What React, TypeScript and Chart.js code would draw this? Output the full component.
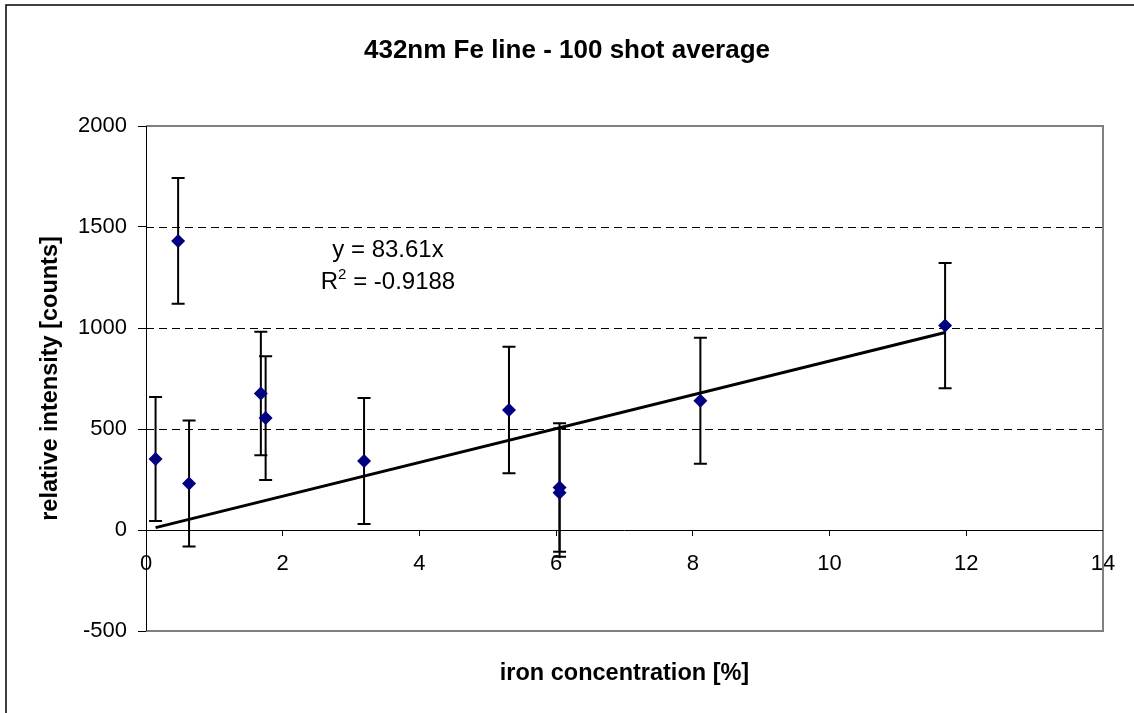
import React, { useEffect, useRef } from 'react';
import { Chart, registerables } from 'chart.js';

Chart.register(...registerables);

// ---- data ----
const ironConcentration = [0.14, 0.47, 0.63, 1.68, 1.75, 3.19, 5.31, 6.05, 6.05, 8.11, 11.69];
const relativeIntensity = [351, 1431, 230, 676, 554, 342, 594, 210, 185, 640, 1012];
const intensityError = [307, 311, 312, 306, 306, 312, 313, 318, 318, 312, 310];
const trendSlope = 83.61;
const trendEquation = 'y = 83.61x';
const trendR2Value = ' = -0.9188';
const xTickValues = [0, 2, 4, 6, 8, 10, 12, 14];
const yTickValues = [-500, 0, 500, 1000, 1500, 2000];
const dashedGridValues = [500, 1000, 1500];
const chartTitle = '432nm Fe line - 100 shot average';
const xAxisTitle = 'iron concentration [%]';
const yAxisTitle = 'relative intensity [counts]';

const FONT = '"Liberation Sans", Arial, Helvetica, sans-serif';

const decorPlugin = {
  id: 'decor',
  beforeDatasetsDraw(chart: any) {
    const { ctx } = chart;
    const xs = chart.scales.x;
    const ys = chart.scales.y;
    const xMin = xTickValues[0];
    const xMax = xTickValues[xTickValues.length - 1];
    const yMin = yTickValues[0];
    const yMax = yTickValues[yTickValues.length - 1];
    const left = xs.getPixelForValue(xMin);
    const right = xs.getPixelForValue(xMax);
    const top = ys.getPixelForValue(yMax);
    const bottom = ys.getPixelForValue(yMin);
    ctx.save();
    // dashed gridlines
    ctx.strokeStyle = '#000';
    ctx.lineWidth = 1;
    ctx.setLineDash([8, 5]);
    dashedGridValues.forEach((v) => {
      const y = Math.round(ys.getPixelForValue(v)) + 0.5;
      ctx.beginPath();
      ctx.moveTo(left, y);
      ctx.lineTo(right, y);
      ctx.stroke();
    });
    ctx.setLineDash([]);
    // gray frame (top, right, bottom)
    ctx.strokeStyle = '#808080';
    ctx.lineWidth = 2;
    ctx.beginPath();
    ctx.moveTo(left, top);
    ctx.lineTo(right, top);
    ctx.lineTo(right, bottom);
    ctx.lineTo(left, bottom);
    ctx.stroke();
    // x axis line at y = 0
    const y0 = Math.round(ys.getPixelForValue(0)) + 0.5;
    ctx.strokeStyle = '#000';
    ctx.lineWidth = 1;
    ctx.beginPath();
    ctx.moveTo(left, y0);
    ctx.lineTo(right, y0);
    ctx.stroke();
    // y axis line
    const x0 = Math.round(left) + 0.5;
    ctx.beginPath();
    ctx.moveTo(x0, top);
    ctx.lineTo(x0, bottom);
    ctx.stroke();
    // error bars
    ctx.strokeStyle = '#000';
    ctx.lineWidth = 2;
    const cap = 6.5;
    ironConcentration.forEach((xv, i) => {
      const px = xs.getPixelForValue(xv);
      const hi = ys.getPixelForValue(relativeIntensity[i] + intensityError[i]);
      const lo = ys.getPixelForValue(relativeIntensity[i] - intensityError[i]);
      ctx.beginPath();
      ctx.moveTo(px, hi);
      ctx.lineTo(px, lo);
      ctx.moveTo(px - cap, hi);
      ctx.lineTo(px + cap, hi);
      ctx.moveTo(px - cap, lo);
      ctx.lineTo(px + cap, lo);
      ctx.stroke();
    });
    ctx.restore();
  },
  afterDraw(chart: any) {
    const { ctx, width, height } = chart;
    const area = chart.chartArea;
    ctx.save();
    // outer chart border (left + top visible)
    ctx.strokeStyle = '#000';
    ctx.lineWidth = 1.5;
    ctx.beginPath();
    ctx.moveTo(6, height);
    ctx.lineTo(6, 5);
    ctx.lineTo(width, 5);
    ctx.stroke();

    ctx.fillStyle = '#000';
    // title
    ctx.font = `bold 26px ${FONT}`;
    ctx.textAlign = 'center';
    ctx.textBaseline = 'alphabetic';
    ctx.fillText(chartTitle, width / 2, 58);
    // x axis title
    ctx.font = `bold 23.5px ${FONT}`;
    ctx.fillText(xAxisTitle, (area.left + area.right) / 2, 680);
    // y axis title
    ctx.save();
    ctx.translate(57, (area.top + area.bottom) / 2);
    ctx.rotate(-Math.PI / 2);
    ctx.fillText(yAxisTitle, 0, 0);
    ctx.restore();
    // trendline equation
    ctx.font = `24px ${FONT}`;
    ctx.fillText(trendEquation, 388, 257);
    ctx.textAlign = 'left';
    const rW = ctx.measureText('R').width;
    ctx.font = `15px ${FONT}`;
    const sW = ctx.measureText('2').width;
    ctx.font = `24px ${FONT}`;
    const restW = ctx.measureText(trendR2Value).width;
    const total = rW + sW + restW;
    let x = 388 - total / 2;
    ctx.fillText('R', x, 289);
    x += rW;
    ctx.font = `15px ${FONT}`;
    ctx.fillText('2', x, 279);
    x += sW;
    ctx.font = `24px ${FONT}`;
    ctx.fillText(trendR2Value, x, 289);
    ctx.restore();
  },
};

export default function App() {
  const canvasRef = useRef<HTMLCanvasElement | null>(null);

  useEffect(() => {
    if (!canvasRef.current) return;
    const xFirst = Math.min(...ironConcentration);
    const xLast = Math.max(...ironConcentration);
    const chart = new Chart(canvasRef.current, {
      type: 'scatter',
      data: {
        datasets: [
          {
            label: 'data',
            data: ironConcentration.map((x, i) => ({ x, y: relativeIntensity[i] })),
            backgroundColor: '#000080',
            borderColor: '#000080',
            pointStyle: 'rectRot',
            pointRadius: 7,
            pointBorderWidth: 0,
            showLine: false,
            order: 0,
          },
          {
            label: 'trend',
            data: [
              { x: xFirst, y: trendSlope * xFirst },
              { x: xLast, y: trendSlope * xLast },
            ],
            borderColor: '#000',
            borderWidth: 3,
            pointRadius: 0,
            showLine: true,
            order: 1,
          },
        ],
      },
      options: {
        responsive: false,
        animation: false,
        devicePixelRatio: 1,
        layout: { padding: { top: 126, right: 31, bottom: 82, left: 0 } },
        plugins: {
          legend: { display: false },
          title: { display: false },
          tooltip: { enabled: false },
        },
        scales: {
          x: {
            type: 'linear',
            position: { y: 0 } as any,
            min: 0,
            max: 14,
            afterBuildTicks: (scale: any) => {
              scale.ticks = xTickValues.map((v) => ({ value: v }));
            },
            ticks: {
              color: '#000',
              font: { family: FONT, size: 22 },
              padding: 15,
              maxRotation: 0,
              callback: (v: any) => String(v),
            },
            grid: {
              drawOnChartArea: false,
              drawTicks: true,
              tickLength: 6,
              tickColor: '#000',
              color: '#000',
            },
            border: { display: false },
          },
          y: {
            type: 'linear',
            min: -500,
            max: 2000,
            afterBuildTicks: (scale: any) => {
              scale.ticks = yTickValues.map((v) => ({ value: v }));
            },
            afterFit: (scale: any) => {
              scale.width = 146;
            },
            ticks: {
              color: '#000',
              font: { family: FONT, size: 22 },
              padding: 11,
              callback: (v: any) => String(v),
            },
            grid: {
              drawOnChartArea: false,
              drawTicks: true,
              tickLength: 8,
              tickColor: '#000',
              color: '#000',
            },
            border: { display: false },
          },
        },
      },
      plugins: [decorPlugin],
    });
    return () => chart.destroy();
  }, []);

  return (
    <div style={{ position: 'absolute', left: 0, top: 0, width: 1134, height: 713, background: '#fff' }}>
      <canvas ref={canvasRef} width={1134} height={713} />
    </div>
  );
}
